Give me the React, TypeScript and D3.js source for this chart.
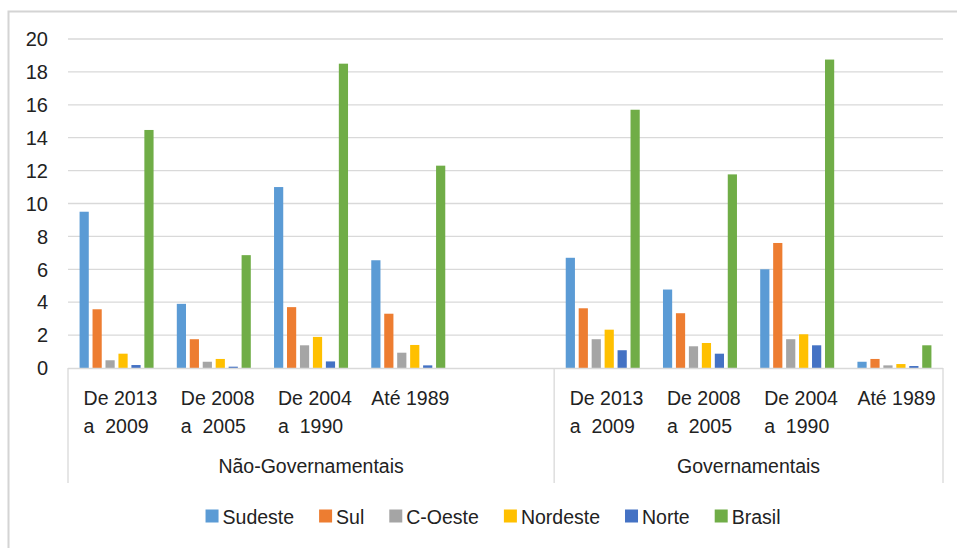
import { useEffect, useRef } from 'react';
import * as d3 from 'd3';

// Periods per sector (last Não-Governamentais slot is empty in the original)
const sectors = ['Não-Governamentais', 'Governamentais'];
const periodsNaoGov = ['De 2013|a  2009', 'De 2008|a  2005', 'De 2004|a  1990', 'Até 1989', ''];
const periodsGov = ['De 2013|a  2009', 'De 2008|a  2005', 'De 2004|a  1990', 'Até 1989'];

const seriesNames = ['Sudeste', 'Sul', 'C-Oeste', 'Nordeste', 'Norte', 'Brasil'];
const seriesColors = ['#5B9BD5', '#ED7D31', '#A5A5A5', '#FFC000', '#4472C4', '#70AD47'];

// values follow periodsNaoGov then periodsGov
const sudeste = [9.5, 3.9, 11.0, 6.55, null, 6.7, 4.77, 6.0, 0.38];
const sul = [3.57, 1.75, 3.7, 3.3, null, 3.63, 3.33, 7.6, 0.55];
const cOeste = [0.47, 0.38, 1.38, 0.93, null, 1.75, 1.32, 1.75, 0.16];
const nordeste = [0.87, 0.55, 1.89, 1.4, null, 2.33, 1.52, 2.05, 0.24];
const norte = [0.18, 0.08, 0.4, 0.16, null, 1.08, 0.87, 1.38, 0.12];
const brasil = [14.47, 6.86, 18.5, 12.3, null, 15.7, 11.77, 18.75, 1.38];

const yTicks = [0, 2, 4, 6, 8, 10, 12, 14, 16, 18, 20];

const FONT = "'Liberation Sans', Arial, sans-serif";
const TEXT = '#222222';
const GRID = '#d9d9d9';

export default function App() {
    const ref = useRef<SVGSVGElement | null>(null);

    useEffect(() => {
        if (!ref.current) return;
        const svg = d3.select(ref.current);
        svg.selectAll('*').remove();

        const W = 957, H = 548;
        const left = 68, right = 943, top = 39, bottom = 368;

        svg.append('rect').attr('width', W).attr('height', H).attr('fill', '#fff');

        // outer frame (only top and left edges are visible in the crop)
        svg.append('path')
            .attr('d', `M8.5,${H} V11.5 H${W}`)
            .attr('fill', 'none')
            .attr('stroke', '#d4d4d4')
            .attr('stroke-width', 2);

        const cats = [
            ...periodsNaoGov.map((p, i) => ({ id: `n${i}`, label: p, sector: 0 })),
            ...periodsGov.map((p, i) => ({ id: `g${i}`, label: p, sector: 1 })),
        ];
        const allSeries = [sudeste, sul, cOeste, nordeste, norte, brasil];

        const x0 = d3.scaleBand<string>()
            .domain(cats.map(c => c.id))
            .range([left, right])
            .paddingInner(0.239)
            .paddingOuter(0.119);

        const x1 = d3.scaleBand<string>()
            .domain(seriesNames)
            .range([0, x0.bandwidth()])
            .paddingInner(0.29);

        const y = d3.scaleLinear().domain([0, 20]).range([bottom, top]);

        // gridlines
        svg.append('g')
            .selectAll('line')
            .data(yTicks.filter(t => t > 0))
            .enter()
            .append('line')
            .attr('x1', left).attr('x2', right)
            .attr('y1', d => y(d)).attr('y2', d => y(d))
            .attr('stroke', GRID)
            .attr('stroke-width', 1.3);

        // y labels
        svg.append('g')
            .selectAll('text')
            .data(yTicks)
            .enter()
            .append('text')
            .attr('x', 48)
            .attr('y', d => y(d))
            .attr('dy', '0.36em')
            .attr('text-anchor', 'end')
            .attr('font-family', FONT)
            .attr('font-size', 20)
            .attr('fill', TEXT)
            .text(d => d);

        // bars
        const barG = svg.append('g');
        allSeries.forEach((vals, si) => {
            barG.append('g')
                .selectAll('rect')
                .data(cats.map((c, ci) => ({ id: c.id, v: vals[ci] })).filter(d => d.v != null))
                .enter()
                .append('rect')
                .attr('x', d => (x0(d.id) as number) + (x1(seriesNames[si]) as number))
                .attr('y', d => y(d.v as number))
                .attr('width', x1.bandwidth())
                .attr('height', d => bottom - y(d.v as number))
                .attr('fill', seriesColors[si]);
        });

        // category axis line + group separators
        const sepBottom = 483;
        const step = x0.step();
        const govStart = left + step * periodsNaoGov.length;
        svg.append('line')
            .attr('x1', left).attr('x2', right)
            .attr('y1', bottom + 0.5).attr('y2', bottom + 0.5)
            .attr('stroke', GRID).attr('stroke-width', 1.3);
        [left, govStart, right].forEach(xv => {
            svg.append('line')
                .attr('x1', xv).attr('x2', xv)
                .attr('y1', bottom).attr('y2', sepBottom)
                .attr('stroke', GRID).attr('stroke-width', 1.3);
        });

        // category labels
        cats.forEach(c => {
            if (!c.label) return;
            const cx = (x0(c.id) as number) + x0.bandwidth() / 2;
            const lines = c.label.split('|');
            const startX = lines.length > 1 ? cx - 33 : cx - 37;
            const t = svg.append('text')
                .attr('font-family', FONT)
                .attr('font-size', 19.5)
                .attr('fill', TEXT)
                .style('white-space', 'pre');
            lines.forEach((ln, li) => {
                t.append('tspan')
                    .attr('x', startX)
                    .attr('y', 405 + li * 27.7)
                    .text(ln);
            });
        });

        // sector labels
        const sectorRanges = [[left, govStart], [govStart, right]];
        sectors.forEach((s, i) => {
            svg.append('text')
                .attr('x', (sectorRanges[i][0] + sectorRanges[i][1]) / 2)
                .attr('y', 473)
                .attr('text-anchor', 'middle')
                .attr('font-family', FONT)
                .attr('font-size', 19.5)
                .attr('fill', TEXT)
                .text(s);
        });

        // legend, centred around x≈493
        const legend = svg.append('g');
        const sq = 13, gapSq = 4, gapItem = 25;
        const items = seriesNames.map((name, i) => {
            const g = legend.append('g');
            g.append('rect').attr('width', sq).attr('height', sq).attr('y', -sq / 2 - 1)
                .attr('fill', seriesColors[i]);
            const tx = g.append('text')
                .attr('x', sq + gapSq)
                .attr('dy', '0.35em')
                .attr('font-family', FONT)
                .attr('font-size', 19.5)
                .attr('fill', TEXT)
                .text(name);
            const w = (tx.node() as SVGTextElement).getComputedTextLength();
            return { g, w: sq + gapSq + w };
        });
        const total = d3.sum(items, d => d.w) + gapItem * (items.length - 1);
        let lx = 493 - total / 2;
        items.forEach(it => {
            it.g.attr('transform', `translate(${lx},517)`);
            lx += it.w + gapItem;
        });
    }, []);

    return (
        <svg
            ref={ref}
            width={957}
            height={548}
            style={{ position: 'absolute', left: 0, top: 0, display: 'block' }}
        />
    );
}
